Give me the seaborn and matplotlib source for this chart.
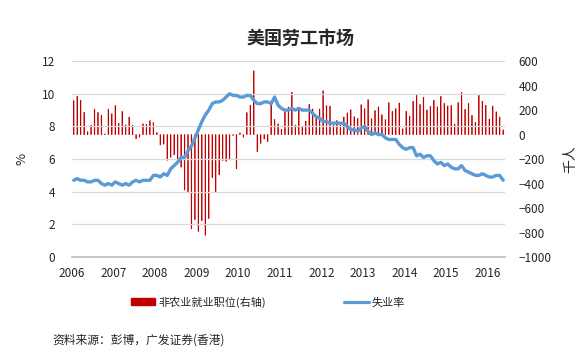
import numpy as np
import pandas as pd
import matplotlib
matplotlib.use("Agg")
import matplotlib.pyplot as plt
import seaborn as sns
from matplotlib.patches import Patch
from matplotlib.lines import Line2D

# monthly data, Jan 2006 - May 2016
unemployment = [
    4.7, 4.8, 4.7, 4.7, 4.6, 4.6, 4.7, 4.7, 4.5, 4.4, 4.5, 4.4,
    4.6, 4.5, 4.4, 4.5, 4.4, 4.6, 4.7, 4.6, 4.7, 4.7, 4.7, 5.0,
    5.0, 4.9, 5.1, 5.0, 5.4, 5.6, 5.8, 6.1, 6.1, 6.5, 6.8, 7.3,
    7.8, 8.3, 8.7, 9.0, 9.4, 9.5, 9.5, 9.6, 9.8, 10.0, 9.9, 9.9,
    9.8, 9.8, 9.9, 9.9, 9.6, 9.4, 9.4, 9.5, 9.5, 9.4, 9.8, 9.3,
    9.1, 9.0, 9.0, 9.1, 9.0, 9.1, 9.0, 9.0, 9.0, 8.8, 8.6, 8.5,
    8.3, 8.3, 8.2, 8.2, 8.2, 8.2, 8.2, 8.0, 7.8, 7.8, 7.7, 7.9,
    8.0, 7.7, 7.5, 7.6, 7.5, 7.5, 7.3, 7.2, 7.2, 7.2, 6.9, 6.7,
    6.6, 6.7, 6.7, 6.2, 6.3, 6.1, 6.2, 6.2, 5.9, 5.7, 5.8, 5.6,
    5.7, 5.5, 5.4, 5.4, 5.6, 5.3, 5.2, 5.1, 5.0, 5.0, 5.1, 5.0,
    4.9, 4.9, 5.0, 5.0, 4.7,
]
payrolls = [
    277, 315, 280, 182, 23, 77, 207, 181, 158, 4, 208, 171,
    238, 93, 189, 79, 143, 75, -34, -20, 88, 84, 114, 98,
    17, -84, -78, -210, -185, -165, -209, -266, -452, -473, -769, -695,
    -791, -703, -823, -686, -351, -470, -329, -212, -219, -200, -7, -279,
    14, -21, 180, 239, 521, -139, -72, -36, -57, 257, 123, 88,
    42, 188, 225, 346, 77, 225, 69, 110, 248, 209, 141, 209,
    358, 237, 233, 78, 115, 76, 143, 177, 203, 146, 132, 244,
    211, 286, 130, 197, 226, 162, 122, 261, 190, 212, 258, 47,
    190, 151, 272, 329, 246, 304, 202, 230, 280, 227, 312, 255,
    234, 238, 86, 262, 344, 206, 254, 157, 100, 321, 272, 239,
    126, 233, 186, 144, 38,
]
years = list(range(2006, 2017))

n = len(unemployment)
df = pd.DataFrame({
    "t": [2006 + (i + 0.5) / 12 for i in range(n)],
    "rate": unemployment,
    "nfp": payrolls,
})

sns.set_theme(style="white")
plt.rcParams["font.family"] = ["Noto Sans CJK SC", "DejaVu Sans"]

BAR = "#C00000"
LINE = "#5B9BD5"

fig = plt.figure(figsize=(5.83, 3.64), dpi=100)
ax = fig.add_axes([0.1235, 0.294, 0.7425, 0.538])
ax2 = ax.twinx()

# thin bars: give them an edge so every month shows up
sns.barplot(data=df, x="t", y="nfp", native_scale=True, color=BAR,
            width=0.15, errorbar=None, saturation=1, ax=ax2,
            edgecolor=BAR, linewidth=0.5, snap=False, zorder=1)
sns.lineplot(data=df, x="t", y="rate", color=LINE, lw=2.4, ax=ax, zorder=3)

# line on top of the bars
ax.set_zorder(ax2.get_zorder() + 1)
ax.patch.set_visible(False)

x_end = 2006 + n / 12
for a in (ax, ax2):
    a.set_xlim(2006, x_end)
    for s in ("top", "left", "right"):
        a.spines[s].set_visible(False)
ax2.spines["bottom"].set_visible(False)
ax.spines["bottom"].set_color("#BFBFBF")

ax.set_ylim(0, 12)
ax.set_yticks(range(0, 13, 2))
ax.yaxis.grid(True, color="#D9D9D9", lw=0.9)
ax.set_xticks(years)
ax.set_xticklabels([str(y) for y in years], fontsize=8.5)
ax.tick_params(axis="x", length=4, color="#BFBFBF", pad=3)
ax.tick_params(axis="y", length=0, labelsize=8.5, pad=12)
ax.set_xlabel("")
ax.set_ylabel("%", fontsize=9.5, rotation=90, labelpad=10)

ax2.set_ylim(-1000, 600)
ax2.set_yticks(range(-1000, 601, 200))
ax2.tick_params(axis="y", length=0, labelsize=8.5, pad=10)
ax2.set_ylabel("千人", fontsize=10, rotation=90, labelpad=8)
ax2.set_xlabel("")
ax2.grid(False)

fig.text(0.515, 0.895, "美国劳工市场", ha="center", va="center",
         fontsize=13, fontweight="bold")

handles = [Patch(color=BAR, label="非农业就业职位(右轴)"),
           Line2D([0], [0], color=LINE, lw=2.3, label="失业率")]
fig.legend(handles=handles, loc="center", bbox_to_anchor=(0.46, 0.17),
           ncol=2, frameon=False, fontsize=8, handlelength=2.2,
           handleheight=0.6, handletextpad=0.3, columnspacing=7)

fig.text(0.09, 0.066, "资料来源：彭博，广发证券(香港)", fontsize=8.5,
         ha="left", va="center")

fig.savefig("out.png", dpi=100)
